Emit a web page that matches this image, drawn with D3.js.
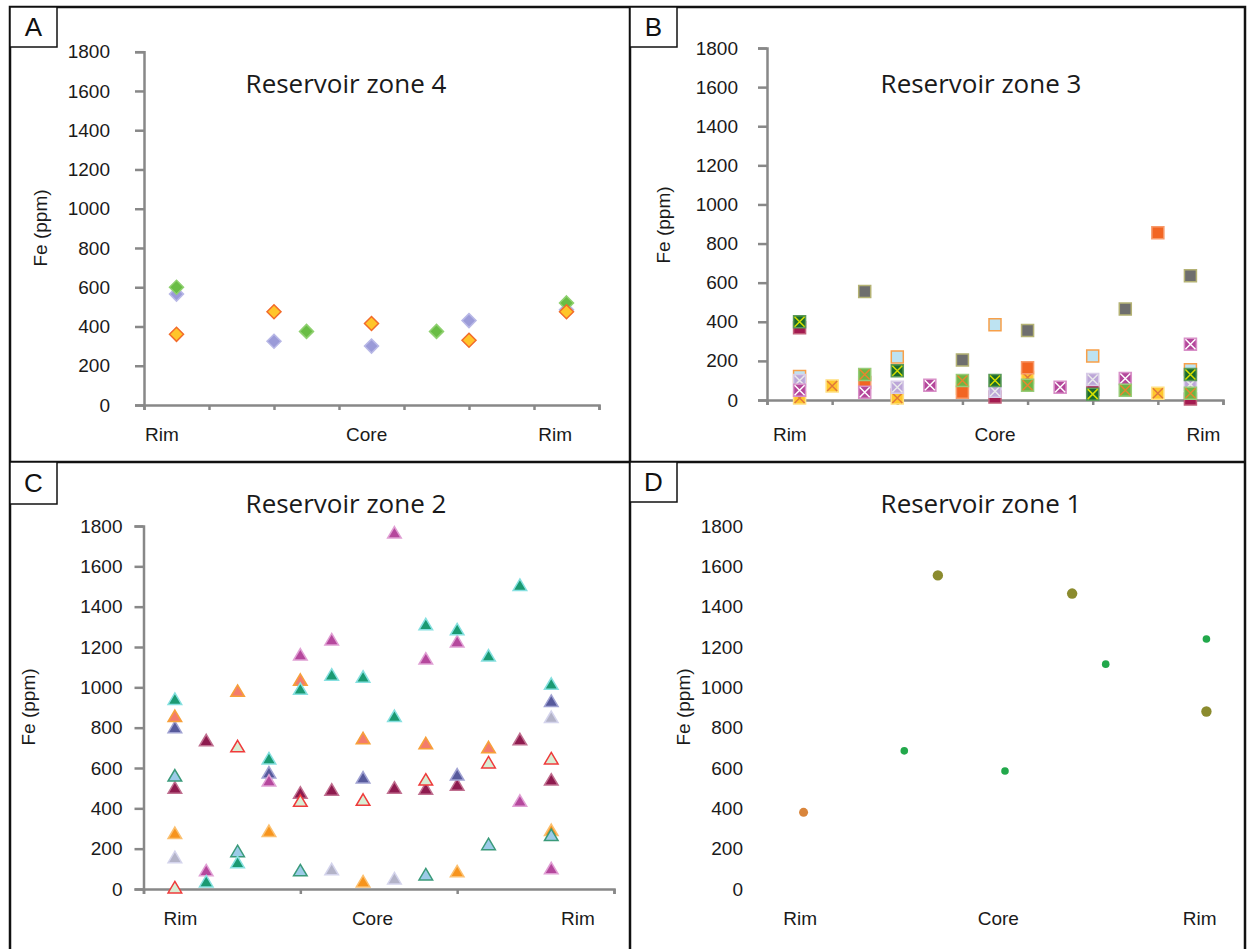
<!DOCTYPE html>
<html>
<head>
<meta charset="utf-8">
<script src="https://cdn.jsdelivr.net/npm/d3@7"></script>
<style>
  body { margin: 0; background: #fff; }
  svg { display: block; }
</style>
</head>
<body>
<svg id="chart" width="1249" height="949"></svg>
<script>
// --- DATA ---
// Fe (ppm) axis ticks and profile labels
var feTicks = [0, 200, 400, 600, 800, 1000, 1200, 1400, 1600, 1800];
var profileLabels = ["Rim", "Core", "Rim"];

// Each series: [spot along the rim-core-rim profile, Fe ppm]
// Reservoir zone 4 (diamonds)
var z4Green  = [[1, 600], [5, 375], [9, 375], [13, 520]];
var z4Violet = [[1, 565], [4, 325], [7, 300], [10, 430], [13, 485]];
var z4Gold   = [[1, 360], [4, 475], [7, 415], [10, 330], [13, 475]];

// Reservoir zone 3 (squares)
var z3Maroon    = [[1, 370], [4, 25], [7, 15], [10, 55], [13, 5]];
var z3Gold      = [[1, 10], [2, 72], [4, 10], [6, 60], [8, 115], [12, 35]];
var z3Orange    = [[3, 90], [6, 40], [8, 165], [12, 855]];
var z3Gray      = [[3, 555], [6, 205], [8, 355], [11, 465], [13, 635]];
var z3SkyBlue   = [[1, 120], [4, 220], [7, 385], [10, 225], [13, 155]];
var z3Lavender  = [[1, 100], [4, 65], [7, 45], [10, 105], [13, 80]];
var z3Magenta   = [[1, 50], [3, 40], [5, 75], [9, 65], [11, 110], [13, 285]];
var z3Green     = [[3, 130], [6, 100], [8, 75], [11, 50], [13, 35]];
var z3DarkGreen = [[1, 400], [4, 150], [7, 100], [10, 30], [13, 130]];

// Reservoir zone 2 (triangles)
var z2Maroon   = [[1, 500], [2, 735], [5, 475], [6, 490], [8, 500], [9, 495], [10, 515], [12, 740], [13, 540]];
var z2Gray     = [[1, 155], [6, 95], [8, 50], [13, 850]];
var z2Orange   = [[1, 275], [4, 285], [7, 35], [10, 85], [13, 290]];
var z2Hollow   = [[1, 5], [3, 705], [5, 435], [7, 440], [9, 540], [11, 625], [13, 645]];
var z2SkyBlue  = [[1, 560], [3, 185], [5, 90], [9, 70], [11, 220], [13, 265]];
var z2Slate    = [[1, 800], [4, 575], [7, 550], [10, 565], [13, 930]];
var z2Salmon   = [[1, 855], [3, 980], [5, 1035], [7, 745], [9, 720], [11, 700]];
var z2Magenta  = [[2, 90], [4, 535], [5, 1160], [6, 1235], [8, 1765], [9, 1140], [10, 1225], [12, 435], [13, 100]];
var z2Teal     = [[1, 940], [2, 35], [3, 130], [4, 645], [5, 990], [6, 1060], [7, 1050], [8, 855], [9, 1310], [10, 1285], [11, 1155], [12, 1505], [13, 1015]];

// Reservoir zone 1 (circles)
var z1Orange = [[1, 380]];
var z1Green  = [[4, 685], [7, 585], [10, 1115], [13, 1240]];
var z1Olive  = [[5, 1555], [9, 1465], [13, 880]];

// --- PANELS ---
var panels = [
  { letter: "A", box: [10, 7, 47, 40], title: "Reservoir zone 4", titleX: 346, titleY: 93,
    x0: 144, x1: 599, y0: 405, y1: 51.7, xMax: 14, xTicks: d3.range(0, 15, 2), pad: 25,
    feX: 40, feY: 228, rimY: 441, labelAt: [0.55, 6.85, 12.65], showAxes: true,
    series: [
      { data: z4Violet, shape: "diamond", fill: "#9b9bd8", stroke: "#b8b8e6" },
      { data: z4Green, shape: "diamond", fill: "#69bd45", stroke: "#8fd070" },
      { data: z4Gold, shape: "diamond", fill: "#ffc52a", stroke: "#f26b2a" }
    ] },
  { letter: "B", box: [630, 7, 47, 40], title: "Reservoir zone 3", titleX: 981, titleY: 93,
    x0: 767, x1: 1223, y0: 400, y1: 48, xMax: 14, xTicks: d3.range(0, 15, 2), pad: 20,
    feX: 663, feY: 225, rimY: 441, labelAt: [0.7, 7.0, 13.4], showAxes: true,
    series: [
      { data: z3Maroon, shape: "square", fill: "#a31a50", stroke: "#c0607a" },
      { data: z3Gold, shape: "square", fill: "#ffc72c", stroke: "#ffe080", cross: "#e0783a" },
      { data: z3Orange, shape: "square", fill: "#f26522", stroke: "#f79a6a" },
      { data: z3Gray, shape: "square", fill: "#6e6e6e", stroke: "#b4b274" },
      { data: z3SkyBlue, shape: "square", fill: "#bde3f2", stroke: "#f7a04a" },
      { data: z3Lavender, shape: "square", fill: "#bca6d8", stroke: "#d8cce8", cross: "#eaeaea" },
      { data: z3Magenta, shape: "square", fill: "#b4479b", stroke: "#d890c8", cross: "#ffffff" },
      { data: z3Green, shape: "square", fill: "#6db544", stroke: "#98cc78", cross: "#e8862e" },
      { data: z3DarkGreen, shape: "square", fill: "#1b6b2c", stroke: "#5a9a5a", cross: "#d6e000" }
    ] },
  { letter: "C", box: [10, 462, 47, 42], title: "Reservoir zone 2", titleX: 346, titleY: 513,
    x0: 143.5, x1: 614, y0: 889, y1: 526, xMax: 15, xTicks: [0, 5, 10, 15], pad: 12,
    feX: 28, feY: 707, rimY: 925, labelAt: [1.18, 7.3, 13.85], showAxes: true,
    series: [
      { data: z2Maroon, shape: "triangle", fill: "#8e1b4f", stroke: "#c07090" },
      { data: z2Gray, shape: "triangle", fill: "#b3b3c8", stroke: "#d4d4ec" },
      { data: z2Orange, shape: "triangle", fill: "#f7941d", stroke: "#fbc070" },
      { data: z2Hollow, shape: "triangle", fill: "#d8edd4", stroke: "#ef3b3b" },
      { data: z2SkyBlue, shape: "triangle", fill: "#9ccbe8", stroke: "#3a9a7a" },
      { data: z2Slate, shape: "triangle", fill: "#575a9c", stroke: "#a0a2d2" },
      { data: z2Salmon, shape: "triangle", fill: "#f37c6c", stroke: "#f7a03a" },
      { data: z2Magenta, shape: "triangle", fill: "#b5489d", stroke: "#e0a0d4" },
      { data: z2Teal, shape: "triangle", fill: "#1a9a72", stroke: "#86e0e0" }
    ] },
  { letter: "D", box: [630, 462, 47, 40], title: "Reservoir zone 1", titleX: 981, titleY: 513,
    x0: 770, x1: 1240, y0: 889, y1: 526, xMax: 14, xTicks: [], pad: 18,
    feX: 683, feY: 707, rimY: 925, labelAt: [0.9, 6.8, 12.8], showAxes: false,
    series: [
      { data: z1Orange, shape: "circle", r: 4.5, fill: "#d9853b" },
      { data: z1Green, shape: "circle", r: 3.8, fill: "#22a84b" },
      { data: z1Olive, shape: "circle", r: 5.2, fill: "#8b8b2e" }
    ] }
];

var svg = d3.select("#chart");
var axisColor = "#888888";
var textColor = "#1a1a1a";
var tickFont = "Arial, 'Liberation Sans', sans-serif";

// --- FRAME ---
var frame = svg.append("g").attr("fill", "none").attr("stroke", "#111").attr("stroke-width", 2.5);
frame.append("path").attr("d", "M10,949V7H1245V949");
frame.append("line").attr("x1", 630).attr("x2", 630).attr("y1", 7).attr("y2", 949);
frame.append("line").attr("x1", 10).attr("x2", 1245).attr("y1", 462).attr("y2", 462);

function markerPath(shape) {
  if (shape === "diamond") return "M0,-7L7,0L0,7L-7,0Z";
  if (shape === "triangle") return "M0,-6.5L6.8,5L-6.8,5Z";
  return "M-6,-6H6V6H-6Z";
}

panels.forEach(function(p) {
  var g = svg.append("g");

  var x = d3.scaleLinear().domain([0, p.xMax]).range([p.x0, p.x1]);
  var y = d3.scaleLinear().domain([0, 1800]).range([p.y0, p.y1]);

  // Panel letter box
  g.append("rect")
    .attr("x", p.box[0]).attr("y", p.box[1])
    .attr("width", p.box[2]).attr("height", p.box[3])
    .attr("fill", "#fff").attr("stroke", "#111").attr("stroke-width", 1.5);
  g.append("text")
    .attr("x", p.box[0] + p.box[2] / 2).attr("y", p.box[1] + p.box[3] / 2 + 9)
    .attr("text-anchor", "middle")
    .style("font-family", tickFont).style("font-size", "26px").attr("fill", "#111")
    .text(p.letter);

  // Title
  g.append("text")
    .attr("x", p.titleX).attr("y", p.titleY)
    .attr("text-anchor", "middle")
    .style("font-family", "'Open Sans', 'Noto Sans', sans-serif").style("font-size", "26px")
    .attr("fill", textColor)
    .text(p.title);

  // Y axis
  var yAxis = g.append("g")
    .attr("transform", "translate(" + p.x0 + ",0)")
    .call(d3.axisLeft(y).tickValues(feTicks).tickSize(9).tickPadding(p.pad).tickFormat(d3.format("d")));
  yAxis.selectAll("text")
    .style("font-family", tickFont).style("font-size", "19px").attr("fill", textColor);

  // X axis
  var xAxis = g.append("g")
    .attr("transform", "translate(0," + p.y0 + ")")
    .call(d3.axisBottom(x).tickValues(p.xTicks).tickSize(5).tickSizeOuter(5).tickFormat(""));

  [yAxis, xAxis].forEach(function(a) {
    a.select(".domain").attr("stroke", p.showAxes ? axisColor : "none").attr("stroke-width", 2.5);
    a.selectAll(".tick line").attr("stroke", p.showAxes ? axisColor : "none").attr("stroke-width", 2.5);
  });

  // Axis title
  g.append("text")
    .attr("transform", "translate(" + p.feX + "," + p.feY + ") rotate(-90)")
    .attr("text-anchor", "middle").attr("dy", "0.35em")
    .style("font-family", tickFont).style("font-size", "19px").attr("fill", textColor)
    .text("Fe (ppm)");

  // Rim / Core / Rim
  g.selectAll(".profile")
    .data(profileLabels)
    .enter().append("text")
    .attr("x", function(d, i) { return x(p.labelAt[i]); })
    .attr("y", p.rimY)
    .attr("text-anchor", "middle")
    .style("font-family", tickFont).style("font-size", "19px").attr("fill", textColor)
    .text(function(d) { return d; });

  // Markers
  p.series.forEach(function(s) {
    var m = g.append("g").selectAll("g")
      .data(s.data)
      .enter().append("g")
      .attr("transform", function(d) { return "translate(" + x(d[0]) + "," + y(d[1]) + ")"; });

    if (s.shape === "circle") {
      m.append("circle").attr("r", s.r).attr("fill", s.fill);
    } else {
      m.append("path")
        .attr("d", markerPath(s.shape))
        .attr("fill", s.fill)
        .attr("stroke", s.stroke)
        .attr("stroke-width", 1.5);
      if (s.cross) {
        m.append("path")
          .attr("d", "M-5,-5L5,5M5,-5L-5,5")
          .attr("stroke", s.cross).attr("stroke-width", 1.5);
      }
    }
  });
});
</script>
</body>
</html>
